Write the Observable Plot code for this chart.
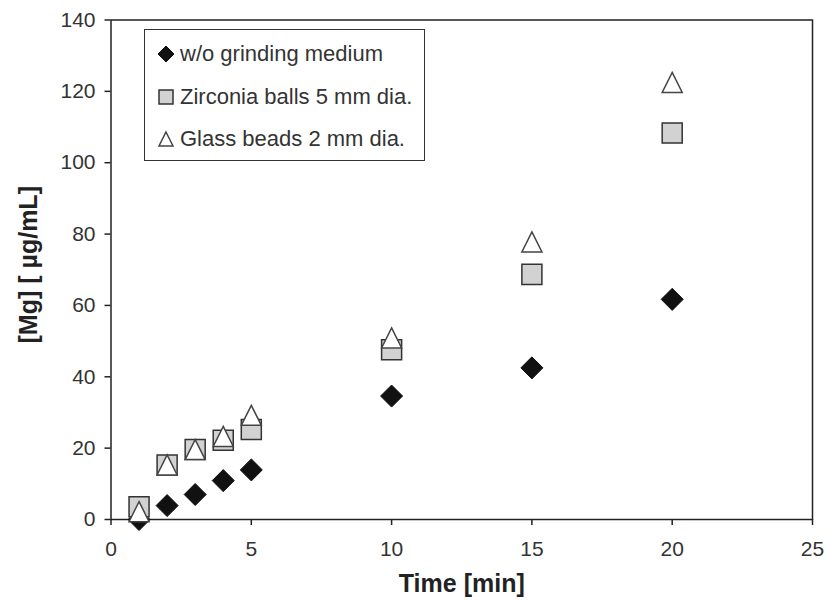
<!DOCTYPE html>
<html>
<head>
<meta charset="utf-8">
<script src="https://cdn.jsdelivr.net/npm/d3@7"></script>
<script src="https://cdn.jsdelivr.net/npm/@observablehq/plot@0.6"></script>
<style>
  body { margin: 0; background: #fff; }
  #wrap { position: relative; width: 828px; height: 604px; font-family: "Liberation Sans", Arial, sans-serif; }
  #legend { position: absolute; left: 144px; top: 29px; width: 279px; height: 127px; border: 1.5px solid #333; background: #fff; padding-top: 3px; box-sizing: content-box; }
  .row { height: 42.5px; display: flex; align-items: center; font-size: 22px; color: #333; white-space: nowrap; }
  .row svg { margin-left: 12px; margin-right: 5px; }
</style>
</head>
<body>
<div id="wrap"></div>
<script>
const times = [1, 2, 3, 4, 5, 10, 15, 20];
const noMedium = [0, 3.9, 7.0, 10.9, 13.9, 34.6, 42.5, 61.7];
const zirconia = [3.6, 15.3, 19.6, 22.2, 25.2, 47.6, 68.7, 108.3];
const glass = [2.2, 15.3, 19.6, 23.3, 29.2, 50.9, 77.8, 122.5];
const seriesNames = ["w/o grinding medium", "Zirconia balls 5 mm dia.", "Glass beads 2 mm dia."];
const xTicks = [0, 5, 10, 15, 20, 25];
const yTicks = [0, 20, 40, 60, 80, 100, 120, 140];
const xLabel = "Time [min]";
const yLabel = "[Mg] [ µg/mL]";

const diamondSym = {draw(c, s) { const h = Math.sqrt(s) / 2 * 1.1; c.moveTo(0, -h); c.lineTo(h, 0); c.lineTo(0, h); c.lineTo(-h, 0); c.closePath(); }};
const squareSym = {draw(c, s) { const h = Math.sqrt(s) / 2; c.moveTo(-h, -h); c.lineTo(h, -h); c.lineTo(h, h); c.lineTo(-h, h); c.closePath(); }};
const triSym = {draw(c, s) { const h = Math.sqrt(s) / 2; c.moveTo(0, -h); c.lineTo(h, h); c.lineTo(-h, h); c.closePath(); }};

const styles = [
  {symbol: diamondSym, fill: "#111", stroke: "#111", strokeWidth: 1},
  {symbol: squareSym, fill: "#d2d2d2", stroke: "#333", strokeWidth: 1.5},
  {symbol: triSym, fill: "#fff", stroke: "#444", strokeWidth: 1.5}
];
const seriesValues = [noMedium, zirconia, glass];
const data = seriesValues.map(vals => times.map((t, i) => ({t, v: vals[i]})));

const plot = Plot.plot({
  width: 828,
  height: 604,
  marginLeft: 110.5,
  marginRight: 16,
  marginTop: 19.5,
  marginBottom: 85,
  style: {fontFamily: "'Liberation Sans', Arial, sans-serif", fontSize: "21px", color: "#333", background: "#fff"},
  x: {domain: [0, 25]},
  y: {domain: [0, 140]},
  marks: [
    Plot.frame({stroke: "#222", strokeWidth: 1.5}),
    Plot.axisX({ticks: xTicks, tickSize: 6, tickPadding: 16, label: null, stroke: "#222", strokeWidth: 1.5, fill: "#333"}),
    Plot.axisY({ticks: yTicks, tickSize: 6, tickPadding: 9.5, label: null, stroke: "#222", strokeWidth: 1.5, fill: "#333"}),
    ...data.map((d, k) => Plot.dot(d, {x: "t", y: "v", r: 11.3, ...styles[k]})),
    Plot.text([xLabel], {frameAnchor: "bottom", dy: 72, fontSize: 25, fontWeight: "bold", fill: "#222"}),
    Plot.text([yLabel], {frameAnchor: "left", textAnchor: "middle", lineAnchor: "middle", dx: -82, dy: -5, rotate: -90, fontSize: 25, fontWeight: "bold", fill: "#222"})
  ]
});

const wrap = document.getElementById("wrap");
wrap.appendChild(plot);

const legend = document.createElement("div");
legend.id = "legend";
const legendSizes = [211, 196, 196];
seriesNames.forEach((name, k) => {
  const row = document.createElement("div");
  row.className = "row";
  const svg = d3.create("svg").attr("width", 18).attr("height", 18);
  svg.append("path")
    .attr("transform", "translate(9,9)")
    .attr("d", d3.symbol().type(styles[k].symbol).size(legendSizes[k])())
    .attr("fill", styles[k].fill)
    .attr("stroke", styles[k].stroke)
    .attr("stroke-width", styles[k].strokeWidth);
  row.appendChild(svg.node());
  const span = document.createElement("span");
  span.textContent = name;
  row.appendChild(span);
  legend.appendChild(row);
});
wrap.appendChild(legend);
</script>
</body>
</html>
